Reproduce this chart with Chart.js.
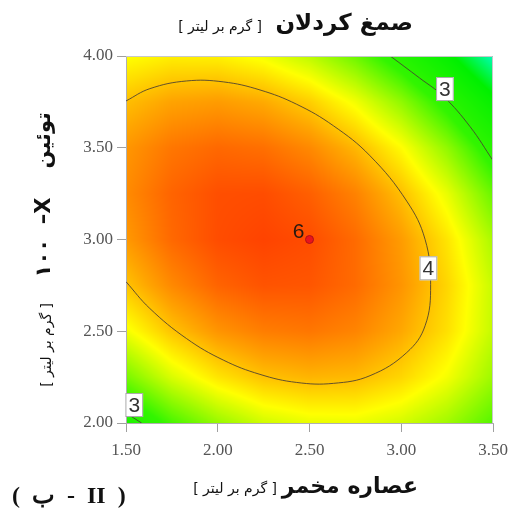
<!DOCTYPE html>
<html>
<head>
<meta charset="utf-8">
<script src="https://cdn.jsdelivr.net/npm/chart.js@4.4.0/dist/chart.umd.min.js"></script>
<style>
  html, body { margin: 0; padding: 0; background: #fff; }
</style>
</head>
<body>
<canvas id="chart" width="508" height="519"></canvas>
<script>
// grid of the response surface (rows go from y = 2.00 up to y = 4.00)
const xGrid = [1.50, 1.75, 2.00, 2.25, 2.50, 2.75, 3.00, 3.25, 3.50];
const yGrid = [2.00, 2.25, 2.50, 2.75, 3.00, 3.25, 3.50, 3.75, 4.00];
const zGrid = [
  [2.83, 3.17, 3.42, 3.60, 3.68, 3.69, 3.61, 3.45, 3.21],
  [3.32, 3.63, 3.85, 3.99, 4.04, 4.02, 3.91, 3.72, 3.44],
  [3.71, 3.98, 4.17, 4.27, 4.30, 4.24, 4.09, 3.87, 3.56],
  [3.98, 4.22, 4.38, 4.45, 4.44, 4.35, 4.17, 3.91, 3.57],
  [4.15, 4.36, 4.48, 4.52, 4.48, 4.35, 4.14, 3.85, 3.48],
  [4.21, 4.38, 4.47, 4.48, 4.40, 4.25, 4.00, 3.68, 3.27],
  [4.16, 4.30, 4.36, 4.33, 4.22, 4.03, 3.76, 3.40, 2.96],
  [4.00, 4.11, 4.14, 4.08, 3.94, 3.71, 3.40, 3.01, 2.54],
  [3.74, 3.81, 3.80, 3.71, 3.54, 3.28, 2.94, 2.52, 2.01]
];

// contour lines
const contour4X = [1.50, 1.63, 1.83, 2.03, 2.23, 2.43, 2.63, 2.83, 3.03, 3.13, 3.16, 3.13, 3.03, 2.83, 2.63, 2.43, 2.23, 2.03, 1.83, 1.63, 1.50];
const contour4Y = [3.755, 3.822, 3.864, 3.859, 3.815, 3.737, 3.62, 3.456, 3.209, 3.0, 2.755, 2.53, 2.384, 2.258, 2.216, 2.221, 2.265, 2.343, 2.46, 2.624, 2.77];
const contour3TopX = [2.94, 3.10, 3.23, 3.375, 3.50];
const contour3TopY = [4.00, 3.88, 3.78, 3.615, 3.43];
const contour3LowX = [1.50, 1.585];
const contour3LowY = [2.054, 2.00];

const contourLabels = ['3', '4', '3'];
const contourLabelX = [3.238, 3.148, 1.545];
const contourLabelY = [3.82, 2.843, 2.098];

const designPointX = [2.50];
const designPointY = [3.00];
const designPointLabel = '6';

const xTicks = [1.50, 2.00, 2.50, 3.00, 3.50];
const yTicks = [2.00, 2.50, 3.00, 3.50, 4.00];

const titleMain = 'صمغ کردلان';
const unitText = '[ گرم بر لیتر ]';
const xTitleMain = 'عصاره مخمر';
const yTitleMain = 'توئین    X–  ١٠٠';
const panelLabel = '(  ب  -  II  )';

// colour ramp: cyan - green - yellow - orange - red
const colourStops = [
  [1.95, [0, 255, 210]],
  [2.45, [0, 240, 0]],
  [3.10, [50, 245, 0]],
  [3.75, [255, 255, 0]],
  [4.10, [255, 165, 0]],
  [4.55, [255, 60, 0]]
];

function colourFor(z) {
  if (z <= colourStops[0][0]) return colourStops[0][1];
  for (let i = 1; i < colourStops.length; i++) {
    if (z <= colourStops[i][0]) {
      const [z0, c0] = colourStops[i - 1];
      const [z1, c1] = colourStops[i];
      const t = (z - z0) / (z1 - z0);
      return [0, 1, 2].map(k => c0[k] + (c1[k] - c0[k]) * t);
    }
  }
  return colourStops[colourStops.length - 1][1];
}

function cellIndex(arr, v) {
  let i = 0;
  while (i < arr.length - 2 && v > arr[i + 1]) i++;
  return i;
}

function surfaceAt(xv, yv) {
  const i = cellIndex(xGrid, xv);
  const j = cellIndex(yGrid, yv);
  const tx = Math.min(1, Math.max(0, (xv - xGrid[i]) / (xGrid[i + 1] - xGrid[i])));
  const ty = Math.min(1, Math.max(0, (yv - yGrid[j]) / (yGrid[j + 1] - yGrid[j])));
  const a = zGrid[j][i], b = zGrid[j][i + 1], c = zGrid[j + 1][i], d = zGrid[j + 1][i + 1];
  return (a * (1 - tx) + b * tx) * (1 - ty) + (c * (1 - tx) + d * tx) * ty;
}

const heatmapPlugin = {
  id: 'heatmap',
  beforeDraw(chart) {
    const { ctx, chartArea: area, scales } = chart;
    const left = Math.round(area.left), top = Math.round(area.top);
    const w = Math.round(area.right) - left, h = Math.round(area.bottom) - top;
    const img = ctx.createImageData(w, h);
    for (let py = 0; py < h; py++) {
      const yv = scales.y.getValueForPixel(top + py + 0.5);
      for (let px = 0; px < w; px++) {
        const xv = scales.x.getValueForPixel(left + px + 0.5);
        const c = colourFor(surfaceAt(xv, yv));
        const k = (py * w + px) * 4;
        img.data[k] = c[0];
        img.data[k + 1] = c[1];
        img.data[k + 2] = c[2];
        img.data[k + 3] = 255;
      }
    }
    ctx.putImageData(img, left, top);
  }
};

const labelsPlugin = {
  id: 'labels',
  afterDatasetsDraw(chart) {
    const { ctx, chartArea: area, scales } = chart;
    ctx.save();
    // frame
    ctx.strokeStyle = '#c8c8c8';
    ctx.lineWidth = 1;
    ctx.beginPath();
    ctx.moveTo(area.left, area.top + 0.5);
    ctx.lineTo(area.right - 0.5, area.top + 0.5);
    ctx.lineTo(area.right - 0.5, area.bottom);
    ctx.stroke();

    // contour level labels
    ctx.font = '21px "Liberation Sans", Arial, sans-serif';
    ctx.textAlign = 'center';
    ctx.textBaseline = 'middle';
    contourLabels.forEach((t, i) => {
      const px = scales.x.getPixelForValue(contourLabelX[i]);
      const py = scales.y.getPixelForValue(contourLabelY[i]);
      const bw = ctx.measureText(t).width + 6, bh = 24;
      ctx.fillStyle = '#fff';
      ctx.fillRect(px - bw / 2, py - bh / 2, bw, bh);
      ctx.strokeStyle = '#aaa';
      ctx.strokeRect(px - bw / 2 + 0.5, py - bh / 2 + 0.5, bw - 1, bh - 1);
      ctx.fillStyle = '#333';
      ctx.fillText(t, px, py + 1);
    });

    // replicate count next to the centre point
    ctx.fillStyle = '#2a1a10';
    ctx.textAlign = 'right';
    ctx.fillText(designPointLabel,
      scales.x.getPixelForValue(designPointX[0]) - 5,
      scales.y.getPixelForValue(designPointY[0]) - 7);

    ctx.fillStyle = '#111';
    ctx.textBaseline = 'middle';
    ctx.direction = 'rtl';

    // title
    ctx.font = 'bold 23px "DejaVu Sans", sans-serif';
    ctx.fillText(titleMain, 413, 24);
    ctx.font = '14px "DejaVu Sans", sans-serif';
    ctx.fillText(unitText, 262, 27);

    // x title
    ctx.font = 'bold 22px "DejaVu Sans", sans-serif';
    ctx.fillText(xTitleMain, 418, 487);
    ctx.font = '14px "DejaVu Sans", sans-serif';
    ctx.fillText(unitText, 277, 489);

    // y title
    ctx.save();
    ctx.translate(45, 0);
    ctx.rotate(-Math.PI / 2);
    ctx.font = 'bold 21px "DejaVu Sans", sans-serif';
    ctx.fillText(yTitleMain, -112, 0);
    ctx.font = '14px "DejaVu Sans", sans-serif';
    ctx.fillText(unitText, -303, 2);
    ctx.restore();

    // panel label
    ctx.direction = 'ltr';
    ctx.textAlign = 'left';
    ctx.font = 'bold 24px "Liberation Serif", "DejaVu Serif", serif';
    ctx.fillText(panelLabel, 12, 497);
    ctx.restore();
  }
};

const pts = (xs, ys) => xs.map((x, i) => ({ x: x, y: ys[i] }));
const lineStyle = {
  showLine: true,
  borderColor: 'rgba(70, 60, 50, 0.85)',
  borderWidth: 1,
  pointRadius: 0,
  fill: false
};

new Chart(document.getElementById('chart'), {
  type: 'scatter',
  data: {
    datasets: [
      { ...lineStyle, label: '4', data: pts(contour4X, contour4Y), tension: 0.4 },
      { ...lineStyle, label: '3', data: pts(contour3TopX, contour3TopY), tension: 0.4 },
      { ...lineStyle, label: '3b', data: pts(contour3LowX, contour3LowY), tension: 0 },
      {
        label: 'centre',
        data: pts(designPointX, designPointY),
        pointRadius: 4,
        pointBackgroundColor: '#e8141c',
        pointBorderColor: '#b0101a',
        pointBorderWidth: 1
      }
    ]
  },
  options: {
    responsive: false,
    animation: false,
    events: [],
    layout: { padding: { top: 56, right: 15, left: 0, bottom: 0 } },
    plugins: {
      legend: { display: false },
      tooltip: { enabled: false }
    },
    scales: {
      x: {
        type: 'linear',
        min: 1.5,
        max: 3.5,
        afterFit: s => { s.height = 96; s.paddingLeft = 0; s.paddingRight = 0; },
        afterBuildTicks: s => { s.ticks = xTicks.map(v => ({ value: v })); },
        ticks: {
          padding: 8,
          color: '#555',
          font: { family: '"Liberation Serif", serif', size: 17 },
          callback: v => v.toFixed(2)
        },
        grid: { drawOnChartArea: false, color: '#a0a0a0', tickLength: 9 },
        border: { color: '#b0b0b0' }
      },
      y: {
        type: 'linear',
        min: 2,
        max: 4,
        afterFit: s => { s.width = 126; s.paddingTop = 0; s.paddingBottom = 0; },
        afterBuildTicks: s => { s.ticks = yTicks.map(v => ({ value: v })); },
        ticks: {
          padding: 4,
          color: '#555',
          font: { family: '"Liberation Serif", serif', size: 17 },
          callback: v => v.toFixed(2)
        },
        grid: { drawOnChartArea: false, color: '#a0a0a0', tickLength: 9 },
        border: { color: '#b0b0b0' }
      }
    }
  },
  plugins: [heatmapPlugin, labelsPlugin]
});
</script>
</body>
</html>
